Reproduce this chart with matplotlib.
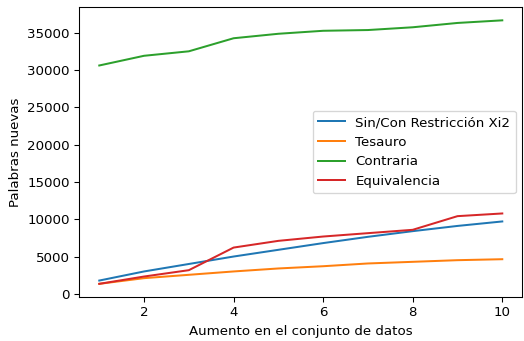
import matplotlib
matplotlib.use("Agg")
import matplotlib.pyplot as plt

x = [1, 2, 3, 4, 5, 6, 7, 8, 9, 10]
sin_con = [1780, 3000, 4000, 5000, 5900, 6800, 7640, 8400, 9100, 9700]
tesauro = [1340, 2100, 2550, 3000, 3400, 3700, 4070, 4290, 4510, 4640]
contraria = [30600, 31900, 32500, 34250, 34850, 35250, 35350, 35720, 36300, 36650]
equivalencia = [1340, 2320, 3170, 6200, 7100, 7680, 8130, 8580, 10410, 10770]

fig, ax = plt.subplots(figsize=(524 / 96, 341 / 96), dpi=96)
ax.plot(x, sin_con, label="Sin/Con Restricción Xi2")
ax.plot(x, tesauro, label="Tesauro")
ax.plot(x, contraria, label="Contraria")
ax.plot(x, equivalencia, label="Equivalencia")
ax.set_xlabel("Aumento en el conjunto de datos")
ax.set_ylabel("Palabras nuevas")
ax.legend(loc="center right")
fig.subplots_adjust(left=0.151, right=0.997, top=0.979, bottom=0.129)
fig.savefig("out.png", dpi=96)
